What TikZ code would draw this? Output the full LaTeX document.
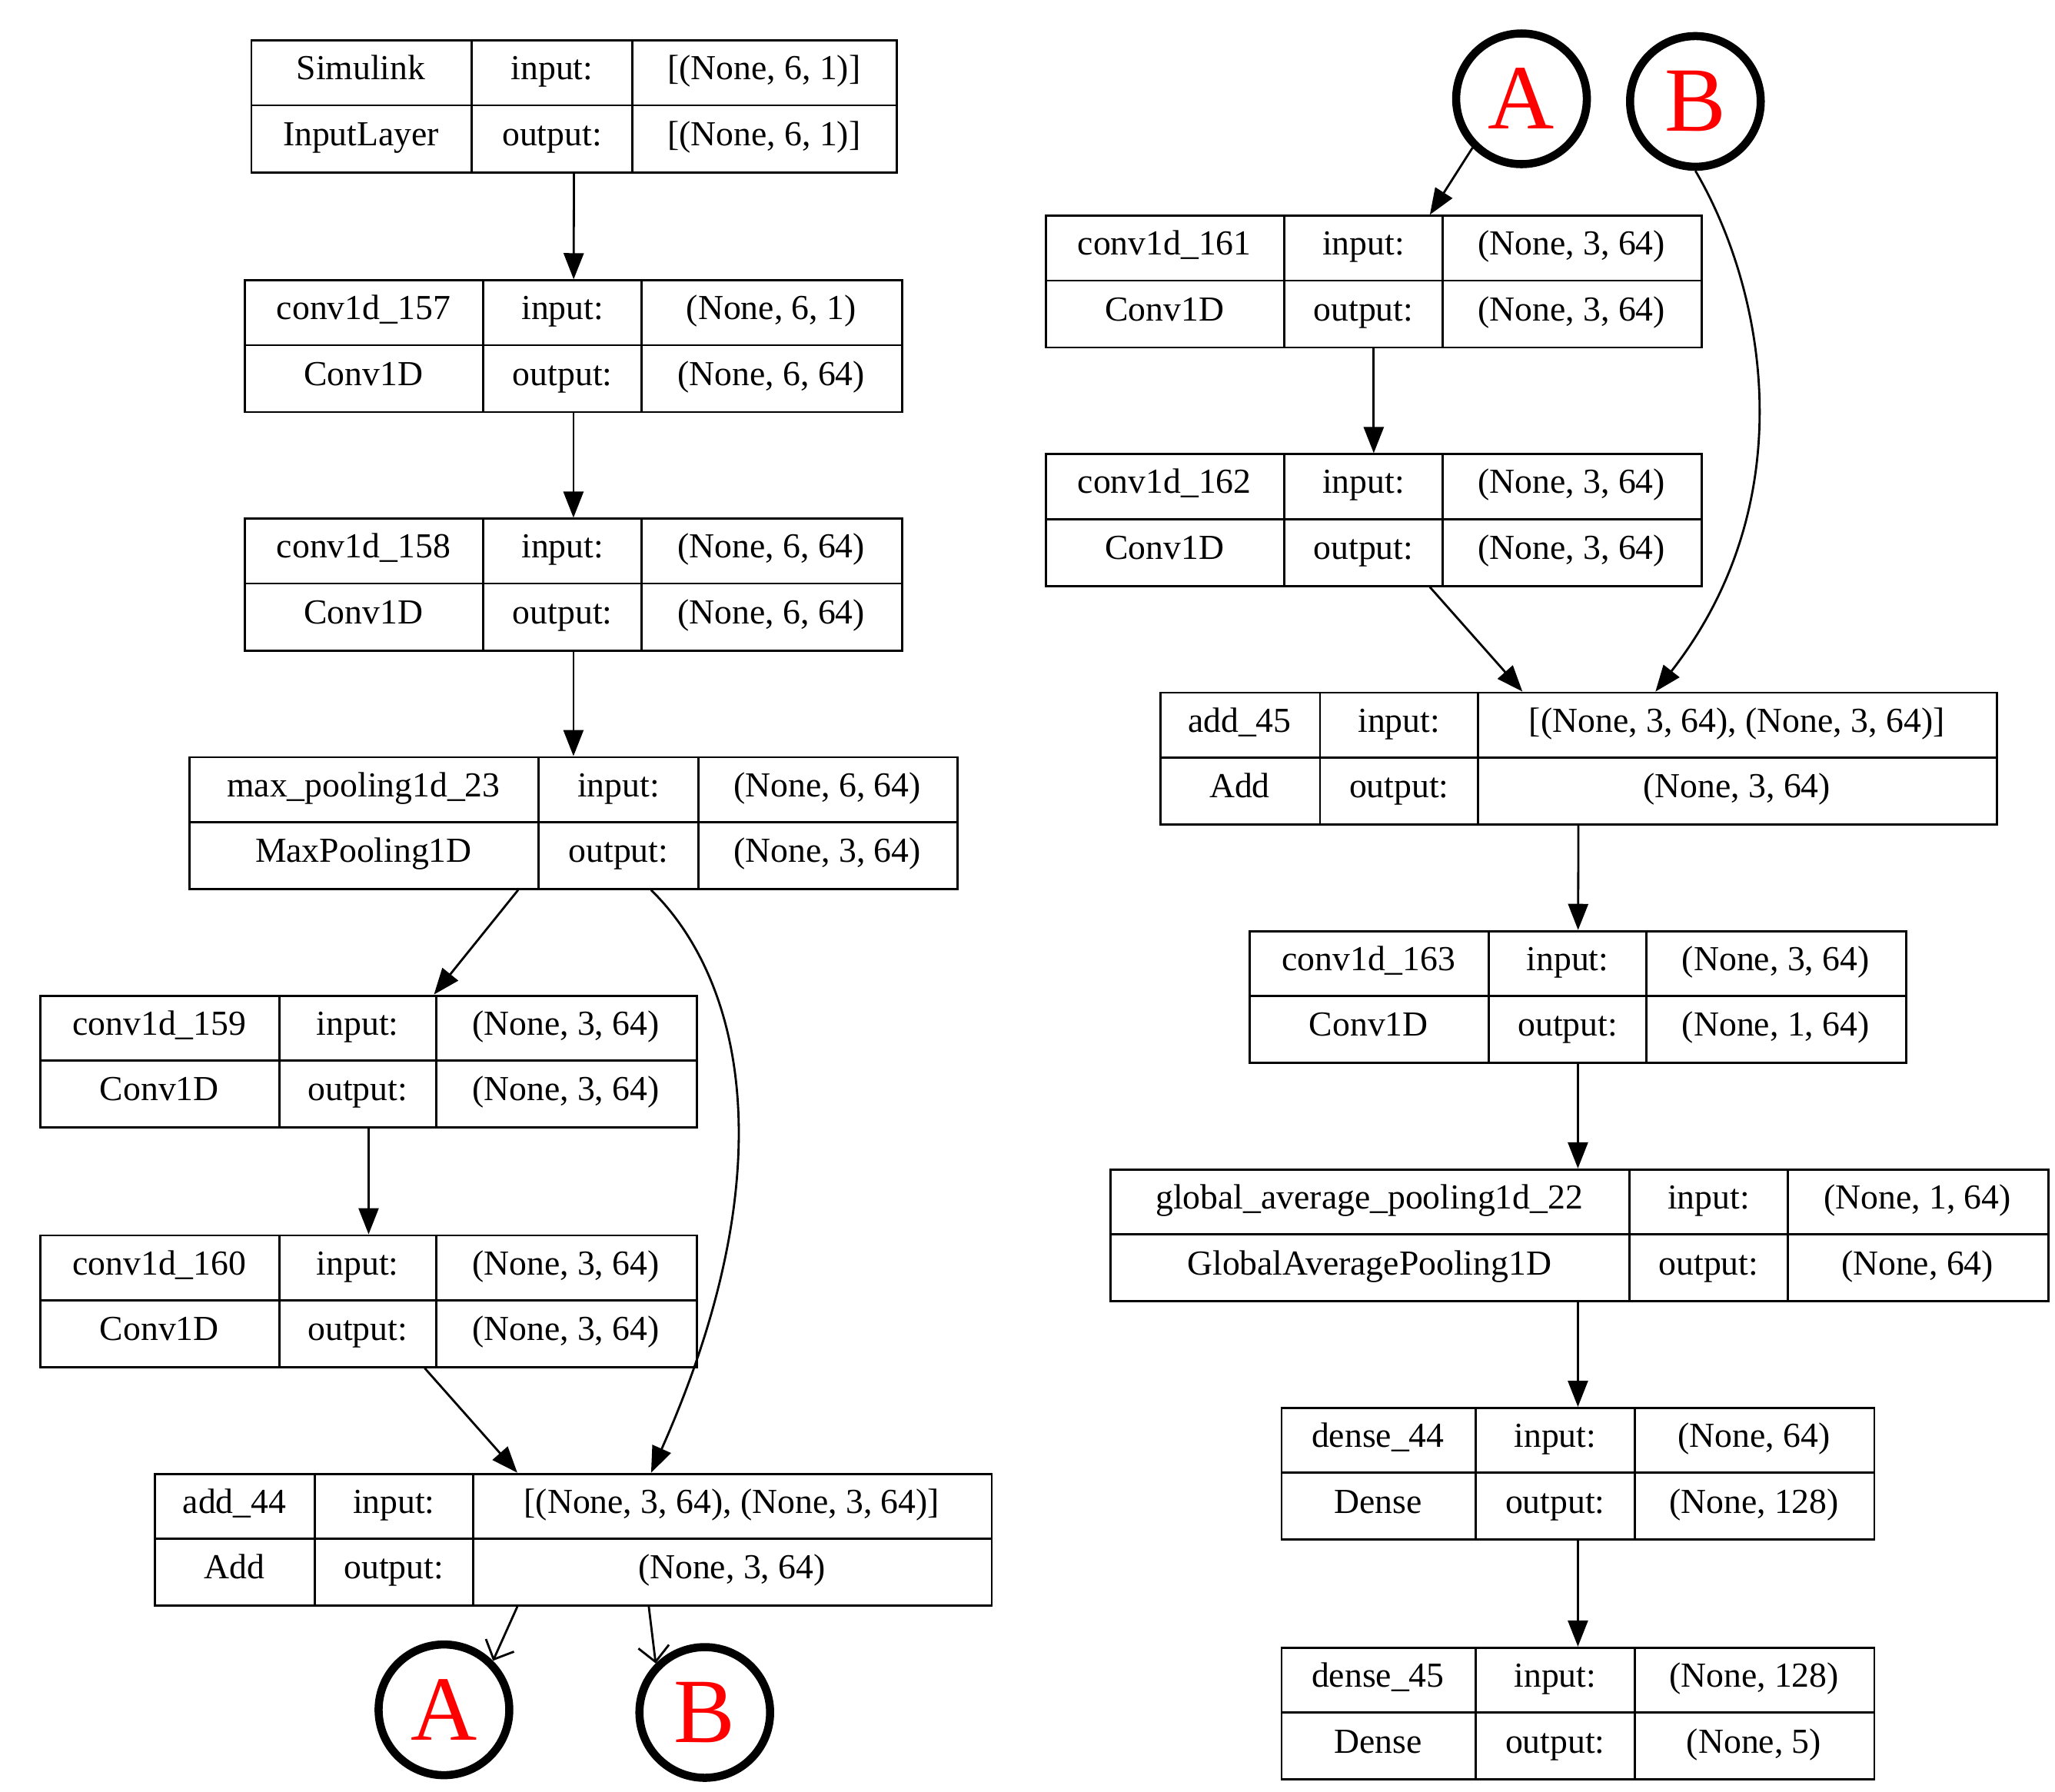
\documentclass[tikz,border=0pt]{standalone}
\usepackage{fontspec}
\setmainfont{Liberation Serif}
\usetikzlibrary{arrows.meta}

\tikzset{
  frame/.style={draw, thick, inner sep=0pt, anchor=north west},
  cell/.style={text height=1.6ex, text depth=0.4ex, inner sep=0pt},
  flow/.style={thick, -{Triangle[length=0.34cm,width=0.26cm]}},
  jump/.style={thick, -{Straight Barb[length=0.2cm,width=0.4cm]}},
  link/.style={draw, line width=3pt, circle, minimum size=1.7cm,
    inner sep=0pt, text=red, font=\fontsize{34}{36}\selectfont}
}

\begin{document}
\begin{tikzpicture}[x=0.01713cm, y=-0.01713cm, font=\fontsize{13}{15}\selectfont]
\useasboundingbox (0,0) rectangle (1560,1360);
% layer tables
\foreach \nm/\a/\b/\c/\d/\y/\ln/\lc/\in/\out in {
  sim/190/358/480/680/30/Simulink/InputLayer/{[(None, 6, 1)]}/{[(None, 6, 1)]},
  cva/185/367/487/684/212/conv1d\_157/Conv1D/{(None, 6, 1)}/{(None, 6, 64)},
  cvb/185/367/487/684/393/conv1d\_158/Conv1D/{(None, 6, 64)}/{(None, 6, 64)},
  mxp/143/409/530/726/574/max\_pooling1d\_23/MaxPooling1D/{(None, 6, 64)}/{(None, 3, 64)},
  cvc/30/212/331/528/755/conv1d\_159/Conv1D/{(None, 3, 64)}/{(None, 3, 64)},
  cvd/30/212/331/528/937/conv1d\_160/Conv1D/{(None, 3, 64)}/{(None, 3, 64)},
  ada/117/239/359/752/1118/add\_44/Add/{[(None, 3, 64), (None, 3, 64)]}/{(None, 3, 64)},
  cve/793/975/1095/1291/163/conv1d\_161/Conv1D/{(None, 3, 64)}/{(None, 3, 64)},
  cvf/793/975/1095/1291/344/conv1d\_162/Conv1D/{(None, 3, 64)}/{(None, 3, 64)},
  adb/880/1002/1122/1515/525/add\_45/Add/{[(None, 3, 64), (None, 3, 64)]}/{(None, 3, 64)},
  cvg/948/1130/1250/1446/706/conv1d\_163/Conv1D/{(None, 3, 64)}/{(None, 1, 64)},
  gap/842/1237/1357/1554/887/global\_average\_pooling1d\_22/GlobalAveragePooling1D/{(None, 1, 64)}/{(None, 64)},
  dna/972/1120/1241/1422/1068/dense\_44/Dense/{(None, 64)}/{(None, 128)},
  dnb/972/1120/1241/1422/1250/dense\_45/Dense/{(None, 128)}/{(None, 5)}}
{
  \node[frame, minimum width={(\d-\a)*0.01713cm}, minimum height={100*0.01713cm}] (\nm) at (\a,\y) {};
  \draw[thick] (\a,\y+50) -- (\d,\y+50) (\b,\y) -- (\b,\y+100) (\c,\y) -- (\c,\y+100);
  \node[cell] at ({(\a+\b)/2},\y+25) {\ln};
  \node[cell] at ({(\a+\b)/2},\y+75) {\lc};
  \node[cell] at ({(\b+\c)/2},\y+25) {input:};
  \node[cell] at ({(\b+\c)/2},\y+75) {output:};
  \node[cell] at ({(\c+\d)/2},\y+25) {\in};
  \node[cell] at ({(\c+\d)/2},\y+75) {\out};
}
% off-page links
\node[link] (aout) at (337,1298) {A};
\node[link] (bout) at (535,1300) {B};
\node[link] (ain) at (1155,75) {A};
\node[link] (bin) at (1287,77) {B};
% left column
\draw[flow] (sim) -- (cva);
\draw[flow] (cva) -- (cvb);
\draw[flow] (cvb) -- (mxp);
\draw[flow] ([xshift=-0.72cm]mxp.south) -- ([xshift=0.85cm]cvc.north);
\draw[flow] (cvc) -- (cvd);
\draw[flow] ([xshift=0.73cm]cvd.south) -- ([xshift=-0.73cm]ada.north);
\draw[flow] ([xshift=1.01cm]mxp.south) .. controls (560,740) and (600,880) .. ([xshift=1.01cm]ada.north);
\draw[jump] ([xshift=-0.73cm]ada.south) -- (aout.north east);
\draw[jump] ([xshift=0.98cm]ada.south) -- (bout.north west);
% right column
\draw[flow] (ain.south west) -- ([xshift=0.73cm]cve.north);
\draw[flow] (cve) -- (cvf);
\draw[flow] ([xshift=0.73cm]cvf.south) -- ([xshift=-0.73cm]adb.north);
\draw[flow] (bin.south) .. controls (1340,220) and (1370,380) .. ([xshift=1.0cm]adb.north);
\draw[flow] (adb) -- (cvg);
\draw[flow] (cvg) -- (gap.north -| cvg.south);
\draw[flow] (gap.south -| cvg.south) -- (dna);
\draw[flow] (dna) -- (dnb);
\end{tikzpicture}
\end{document}
